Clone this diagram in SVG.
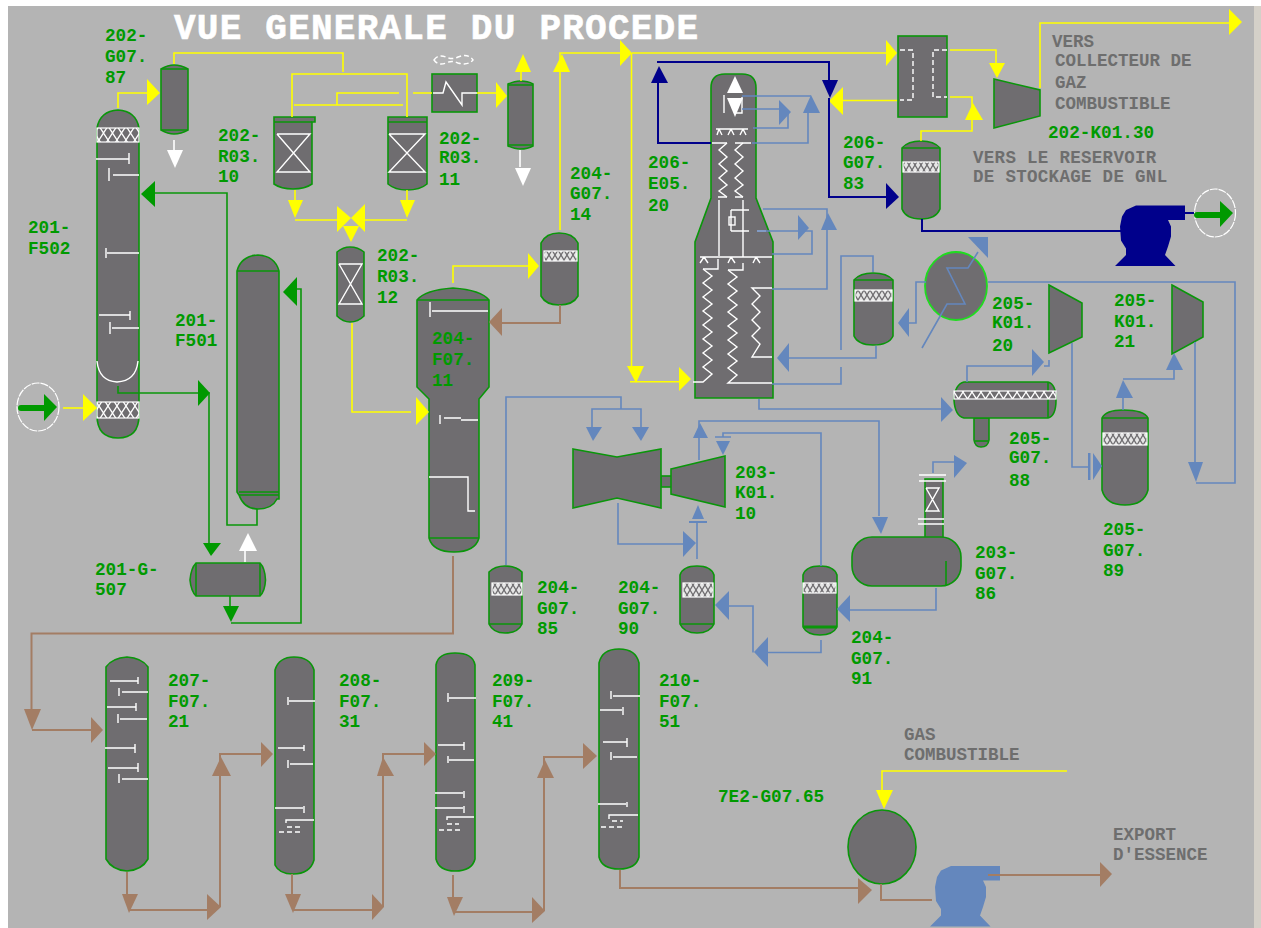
<svg xmlns="http://www.w3.org/2000/svg" width="1261" height="928" viewBox="0 0 1261 928">
<style>
.n{fill:#6f6d70;stroke:#0a960a;stroke-width:1.6}
.g{fill:none;stroke:#0a960a;stroke-width:1.6}
.w{fill:none;stroke:#fff;stroke-width:1.4}
.wd{fill:none;stroke:#fff;stroke-width:1.4;stroke-dasharray:5 3}
.wf{fill:#fff;stroke:none}
.m1{fill:url(#mesh1);stroke:#fff;stroke-width:1.2}
.m2{fill:url(#mesh2);stroke:#fff;stroke-width:1.2}
.l{font-family:"Liberation Mono",monospace;font-weight:700;font-size:17.7px;fill:#009a00}
.t{font-family:"Liberation Mono",monospace;font-weight:700;font-size:17.5px;fill:#6e6e6e}
.ly,.lb,.ln,.lr,.lg,.lw{fill:none;stroke-width:1.6}
.ly{stroke:#ffff00}.lb{stroke:#6487bd}.ln{stroke:#00008b;stroke-width:2}.lr{stroke:#a37d64;stroke-width:2}.lg{stroke:#0a960a}.lw{stroke:#fff}
.ay{fill:#ffff00}.ab{fill:#6487bd}.an{fill:#00008b}.ar{fill:#a37d64}.ag{fill:#009900}.aw{fill:#fff}
</style>
<defs>
<pattern id="mesh1" width="9" height="14" patternUnits="userSpaceOnUse">
<rect width="9" height="14" fill="#6f6d70"/><path d="M0 0L9 14M9 0L0 14" stroke="#fff" stroke-width="1.3"/>
</pattern>
<pattern id="mesh2" width="6" height="10" patternUnits="userSpaceOnUse">
<rect width="6" height="10" fill="#e6e6e6"/><path d="M0 0L6 10M6 0L0 10" stroke="#6f6d70" stroke-width="1.3"/>
</pattern>
<path id="pump" d="M0 60.500L11 49.500L11 43L6 35L5 21L7 11L11 4.500L21 0L70 0L70 14.500L53 14.500L56 21L56 31L53 41L50 49.500L60.500 60.500Z"/>
</defs>
<rect width="1261" height="928" fill="#fff"/>
<rect x="8" y="6" width="1246" height="922" fill="#b4b4b4"/>
<rect x="1254" y="6" width="7" height="922" fill="#d4d0c8"/>
<text id="title" x="174" y="39" font-family="'Liberation Mono',monospace" font-weight="700" font-size="36" fill="#fff" stroke="#fff" stroke-width=".6" textLength="524" lengthAdjust="spacing">VUE GENERALE DU PROCEDE</text>

<g id="n201-F502">
<path class="n" d="M97 128Q100 111 118 110Q136 111 139 128L139 415Q139 438 118 438Q97 438 97 415Z"/>
<rect class="m1" x="97" y="128" width="42" height="14"/>
<rect class="m1" x="97" y="402" width="42" height="16"/>
<path class="w" d="M96 159H129M129 153V164M113 175H139M109 168V181M107 253H139M106 248V258M99 315H130M130 311V320M112 328H139M110 322V334M97 361Q99 381 117 382Q136 381 138 361"/>
<text class="l"><tspan x="28" y="233">201-</tspan><tspan x="28" y="254">F502</tspan></text>
</g>
<g id="n201-F501">
<path class="n" d="M237 271Q241 256 258 255Q275 256 279 271L279 499L277 499Q272 509 258 509Q244 509 239 495L237 492Z"/>
<path class="g" d="M237 271H279M239 492H279M239 495H279"/>
<text class="l"><tspan x="175" y="326">201-</tspan><tspan x="175" y="346">F501</tspan></text>
</g>
<g id="n201-G-507">
<path class="n" d="M196 563H260Q265 568 265.500 580Q265 591 260 596H196Q191 591 190 580Q191 568 196 563Z"/>
<path class="g" d="M196 563V596M260 563V596"/>
<text class="l"><tspan x="95" y="575">201-G-</tspan><tspan x="95" y="595">507</tspan></text>
</g>
<g id="n202-G07.87">
<path class="n" d="M161 69Q168 65 174 65Q181 65 188 69V130Q181 134 174 134Q168 134 161 130Z"/>
<path class="g" d="M161 69H188M161 130H188"/>
<text class="l"><tspan x="105" y="41">202-</tspan><tspan x="105" y="62">G07.</tspan><tspan x="105" y="83">87</tspan></text>
</g>
<g id="n202-R03.10">
<path class="n" d="M274 122V117H315V122H312V184Q305 189 293 189Q281 189 274 184Z"/>
<path class="g" d="M274 122H312"/>
<path class="w" d="M277 134H310L277 172H310L277 134"/>
<text class="l"><tspan x="218" y="141">202-</tspan><tspan x="218" y="162">R03.</tspan><tspan x="218" y="182">10</tspan></text>
</g>
<g id="n202-R03.11">
<path class="n" d="M388 122V117H427V184Q420 190 407 190Q395 190 388 184Z"/>
<path class="g" d="M388 122H427"/>
<path class="w" d="M389 134H425L389 172H425L389 134"/>
<text class="l"><tspan x="439" y="144">202-</tspan><tspan x="439" y="163">R03.</tspan><tspan x="439" y="185">11</tspan></text>
</g>
<g id="n202-R03.12">
<path class="n" d="M337 252Q343 247 350 247Q358 247 364 252V316Q358 322 350 322Q343 322 337 316Z"/>
<path class="w" d="M339 264H362L339 304H362L339 264"/>
<text class="l"><tspan x="377" y="261">202-</tspan><tspan x="377" y="282">R03.</tspan><tspan x="377" y="303">12</tspan></text>
</g>
<g id="n-cooler">
<rect class="n" x="432" y="74" width="45" height="38"/>
<path class="w" d="M433 93H443L446 82L462 105V93H477"/>
<path class="wd" stroke-dasharray="3 2" d="M434 60Q438 54 446 57Q452 60 458 57Q468 53 473 60Q468 66 458 63Q452 60 446 63Q438 66 434 60Z"/>
</g>
<g id="n-vessel-top">
<path class="n" d="M508 84Q515 81 520 81Q528 81 533 84V146Q528 149 520 149Q515 149 508 146Z"/>
<path class="g" d="M508 85H533M508 145H533"/>
</g>
<g id="n204-G07.14">
<path class="n" d="M541 243Q546 233 559 233Q573 233 578 243V296Q573 305 559 305Q546 305 541 296Z"/>
<rect class="m2" x="544" y="251" width="33" height="10"/>
<text class="l"><tspan x="570" y="179">204-</tspan><tspan x="570" y="199">G07.</tspan><tspan x="570" y="220">14</tspan></text>
</g>
<g id="n204-F07.11">
<path class="n" d="M417 300Q425 290 453 288Q481 290 489 300V387L479 399V538Q475 552 454 552Q433 552 429 538V399L417 387Z"/>
<path class="g" d="M417 300H489M429 538H479"/>
<path class="w" d="M432 311H488M430 302V317M440 415V424M444 418H461M461 420H478M429 477H468V511H475"/>
<text class="l"><tspan x="432" y="344">204-</tspan><tspan x="432" y="365">F07.</tspan><tspan x="432" y="386">11</tspan></text>
</g>
<g id="n206-E05.20">
<path class="n" d="M711 198V88Q711 74 725 74H742Q756 74 756 88V198L773 242V398H695V242Z"/>
<polygon class="wf" points="727,93 743,93 735,76"/>
<polygon class="wf" points="727,98 743,98 735,117"/>
<path class="w" d="M724 95V113M735 113H742V97"/>
<path class="w" d="M716 129H748M719 129L717 135M719 129L722 135M731 129L728 135M731 129L734 135M743 129L740 135M743 129L746 135"/>
<path class="w" d="M712 143H727M735 143H751M718 197H727M735 197H743"/>
<polyline class="w" points="727,143 719,150 727,157 719,164 727,171 719,178 727,185 719,191 727,197"/>
<polyline class="w" points="743,143 735,150 743,157 735,164 743,171 735,178 743,185 735,191 743,197"/>
<path class="w" d="M719 200V256M743 200V257M731 210H749M731 210V231M731 231H749M757 231H766"/>
<rect class="w" x="729" y="217" width="6" height="8"/>
<path class="w" d="M700 257H772M704 257L700 263M704 257L708 263M731 257L728 263M731 257L735 263M756 257L753 263M756 257L760 263M718 259V269H703M743 263V270H728"/>
<polyline class="w" points="703,269 712,276 703,283 712,290 703,297 712,304 703,311 712,318 703,325 712,332 703,339 712,346 703,353 712,360 703,367 712,374 703,382 693,382"/>
<polyline class="w" points="728,270 737,277 728,284 737,291 728,298 737,305 728,312 737,319 728,326 737,333 728,340 737,347 728,354 737,361 728,368 737,375 728,383 772,383"/>
<polyline class="w" points="772,288 752,288 760,296 752,304 760,312 752,320 760,328 752,336 760,344 752,357 772,357"/>
<text class="l"><tspan x="648" y="168">206-</tspan><tspan x="648" y="189">E05.</tspan><tspan x="648" y="211">20</tspan></text>
</g>
<g id="n-exchanger-top">
<rect class="n" x="898" y="36" width="49" height="81"/>
<path class="wd" d="M900 50H913V100H900M947 50H933V97H947"/>
</g>
<g id="n206-G07.83">
<path class="n" d="M902 148Q908 141 921 141Q934 141 940 148V209Q936 219 921 219Q906 219 902 209Z"/>
<path class="g" d="M902 148H940"/>
<rect class="m2" x="903" y="162" width="36" height="10"/>
<text class="l"><tspan x="843" y="148">206-</tspan><tspan x="843" y="168">G07.</tspan><tspan x="843" y="189">83</tspan></text>
</g>
<g id="n202-K01.30">
<polygon class="n" points="994,79 1040,90 1040,116 994,128"/>
<text class="l" x="1048" y="138">202-K01.30</text>
</g>
<g id="n-pump-gnl"><use href="#pump" x="1115" y="205.500" fill="#00008b"/></g>
<g id="n-sortie-gnl">
<ellipse cx="1215" cy="213" rx="20.500" ry="24" fill="none" stroke="#fff" stroke-width="1.2" stroke-dasharray="8 1"/>
</g>
<g id="n-entree">
<ellipse cx="38" cy="407" rx="21" ry="24" fill="none" stroke="#fff" stroke-width="1.2" stroke-dasharray="8 1"/>
</g>
<g id="n-vessel-mid">
<path class="n" d="M854 280Q860 273 873 273Q887 273 893 280V336Q889 345 873 345Q858 345 854 336Z"/>
<path class="g" d="M854 280H893"/>
<rect class="m2" x="855" y="290" width="37" height="11"/>
</g>
<g id="n-exchanger-round">
<ellipse cx="956" cy="286" rx="31" ry="34" fill="#6f6d70" stroke="#1fdc1f" stroke-width="1.8"/>
</g>
<g id="n205-K01.20">
<polygon class="n" points="1049,285 1082,303 1082,337 1049,353"/>
<text class="l"><tspan x="992" y="309">205-</tspan><tspan x="992" y="328">K01.</tspan><tspan x="992" y="351">20</tspan></text>
</g>
<g id="n205-K01.21">
<polygon class="n" points="1172,285 1203,302 1203,337 1172,354"/>
<text class="l"><tspan x="1114" y="306">205-</tspan><tspan x="1114" y="327">K01.</tspan><tspan x="1114" y="347">21</tspan></text>
</g>
<g id="n205-G07.88">
<path class="n" d="M974 418V440Q975 447 981 447Q988 447 989 440V418Z"/>
<path class="g" d="M975 441H988"/>
<path class="n" d="M964 382H1048Q1056 384 1056 400Q1056 416 1048 418H964Q955 416 954 400Q955 384 964 382Z"/>
<path class="g" d="M1048 382V418"/>
<rect class="m1" x="954" y="391" width="102" height="8"/>
<text class="l"><tspan x="1009" y="444">205-</tspan><tspan x="1009" y="463">G07.</tspan><tspan x="1009" y="486">88</tspan></text>
</g>
<g id="n205-G07.89">
<path class="n" d="M1102 418Q1106 410 1123 410Q1144 410 1148 418V490Q1144 505 1125 505Q1106 505 1102 490Z"/>
<path class="g" d="M1102 418H1148"/>
<rect class="m2" x="1103" y="433" width="44" height="12"/>
<text class="l"><tspan x="1103" y="535">205-</tspan><tspan x="1103" y="556">G07.</tspan><tspan x="1103" y="576">89</tspan></text>
</g>
<g id="n203-K01.10">
<rect class="n" x="661" y="476" width="11" height="11"/>
<polygon class="n" points="573,449 617,457 661,449 661,508 617,498 573,508"/>
<polygon class="n" points="671,469 725,456 725,507 671,494"/>
<text class="l"><tspan x="735" y="478">203-</tspan><tspan x="735" y="498">K01.</tspan><tspan x="735" y="519">10</tspan></text>
</g>
<g id="n203-G07.86">
<rect class="n" x="925" y="479" width="18" height="60"/>
<path class="w" d="M919 475H946M919 481H946M918 519H944M918 524H944"/>
<path class="w" d="M926 488H939L926 511H939L926 488"/>
<rect class="n" x="852" y="537" width="109" height="49" rx="20" ry="20"/>
<path class="g" d="M946 561V586"/>
<text class="l"><tspan x="975" y="558">203-</tspan><tspan x="975" y="579">G07.</tspan><tspan x="975" y="599">86</tspan></text>
</g>
<g id="n204-G07.85">
<path class="n" d="M489 572Q495 566 505 566Q516 566 522 572V624Q518 633 505 633Q493 633 489 624Z"/>
<path class="g" d="M489 624H522"/>
<rect class="m2" x="492" y="583" width="30" height="12"/>
<text class="l"><tspan x="537" y="593">204-</tspan><tspan x="537" y="614">G07.</tspan><tspan x="537" y="634">85</tspan></text>
</g>
<g id="n204-G07.90">
<path class="n" d="M680 575Q683 566 697 566Q711 566 714 575V624Q710 633 697 633Q684 633 680 624Z"/>
<path class="g" d="M680 624H714"/>
<rect class="m2" x="683" y="583" width="30" height="14"/>
<text class="l"><tspan x="618" y="593">204-</tspan><tspan x="618" y="614">G07.</tspan><tspan x="618" y="634">90</tspan></text>
</g>
<g id="n204-G07.91">
<path class="n" d="M803 575Q806 566 820 566Q834 566 837 575V627Q833 635 820 635Q807 635 803 627Z"/>
<path d="M803 627H837" fill="none" stroke="#0a960a" stroke-width="3"/>
<rect class="m2" x="803" y="583" width="33" height="10"/>
<text class="l"><tspan x="851" y="643">204-</tspan><tspan x="851" y="664">G07.</tspan><tspan x="851" y="684">91</tspan></text>
</g>
<g id="n207-F07.21">
<path class="n" d="M106 667Q112 658 127 657Q142 658 148 667V859Q142 870 127 871Q112 870 106 859Z"/>
<path class="w" d="M110 681H138M138 677V684M122 692H148M119 688V696M107 707H136M136 703V711M120 719H147M118 714V723M105 748H135M135 744V753M108 768H138M138 763V772M122 779H148M119 774V783"/>
<text class="l"><tspan x="168" y="686">207-</tspan><tspan x="168" y="707">F07.</tspan><tspan x="168" y="727">21</tspan></text>
</g>
<g id="n208-F07.31">
<path class="n" d="M275 670Q279 657 294 657Q310 657 314 670V860Q310 874 293 874Q279 874 275 865Z"/>
<path class="w" d="M289 701H315M288 697V705M278 748H304M304 745V751M290 764H313M288 760V768M275 808H303M304 806V813M286 823V820H314"/>
<path class="wd" d="M287 827H300M279 832H300"/>
<text class="l"><tspan x="339" y="686">208-</tspan><tspan x="339" y="707">F07.</tspan><tspan x="339" y="727">31</tspan></text>
</g>
<g id="n209-F07.41">
<path class="n" d="M436 665Q438 653 455 653Q473 653 475 665V859Q472 871 455 871Q439 871 436 859Z"/>
<path class="w" d="M449 698H476M448 693V702M438 745H464M464 742V750M449 760H474M448 756V763M435 793H463M464 791V798M435 808H463M464 806V813M447 820V817H474"/>
<path class="wd" d="M447 824H459M439 830H460"/>
<text class="l"><tspan x="492" y="686">209-</tspan><tspan x="492" y="707">F07.</tspan><tspan x="492" y="727">41</tspan></text>
</g>
<g id="n210-F07.51">
<path class="n" d="M599 663Q602 649 619 649Q636 649 639 663V857Q636 869 619 869Q602 869 599 857Z"/>
<path class="w" d="M613 696H640M611 691V699M600 710H622M623 707V715M603 742H627M627 738V747M613 757H637M611 752V760M598 804H626M627 802V807M609 819V815H638"/>
<path class="wd" d="M612 821H623M601 827H623"/>
<text class="l"><tspan x="659" y="686">210-</tspan><tspan x="659" y="707">F07.</tspan><tspan x="659" y="727">51</tspan></text>
</g>
<g id="n7E2-G07.65">
<ellipse class="n" cx="882" cy="847" rx="34" ry="37"/>
<text class="l" x="718" y="802">7E2-G07.65</text>
</g>
<g id="n-pump-essence"><use href="#pump" x="930" y="866" fill="#6487bd"/></g>

<g id="connectors">
<path class="ly" d="M63 408H83"/><polygon class="ay" points="83,394 97,408 83,421"/>
<path class="ly" d="M118 108V93H147"/><polygon class="ay" points="147,79 160,93 147,105"/>
<path class="ly" d="M174 64V53H343V72M292 117V74H407V117M294 105H403M337 105V93H399M413 93H432"/>
<polygon class="ay" points="288,200 303,200 295,218"/><polygon class="ay" points="400,200 415,200 407,218"/>
<path class="ly" d="M295 190V200M407 190V200M295 220H340M365 220H407"/>
<polygon class="ay" points="337,206 351,218 337,232"/><polygon class="ay" points="365,204 351,218 365,232"/><polygon class="ay" points="343,226 359,226 351,242"/>
<path class="ly" d="M352 323V412H411"/><polygon class="ay" points="416,397 429,412 416,425"/>
<path class="ly" d="M477 93H496"/><polygon class="ay" points="496,82 507,96 496,108"/>
<path class="ly" d="M521 81V72"/><polygon class="ay" points="515,72 531,72 523,54"/>
<path class="ly" d="M453 283V266H528"/><polygon class="ay" points="528,253 539,266 528,279"/>
<path class="ly" d="M560 230V53H622M632 53H886M631.500 53V366M630 381.700H679"/>
<polygon class="ay" points="553,72 570,72 562,54"/><polygon class="ay" points="620,40 632,53 620,66"/><polygon class="ay" points="886,40 897,53 886,66"/>
<polygon class="ay" points="627,366 644,366 636,383"/><polygon class="ay" points="679,367 691,379 679,391"/>
<path class="ly" d="M950 50H996V63M897 100.500H840"/><polygon class="ay" points="989,63 1005,63 997,78"/><polygon class="ay" points="843,87 843,115 829,101"/>
<path class="ly" d="M921 141V131H972V97H950"/><polygon class="ay" points="965,120 983,120 973,103"/>
<path class="ly" d="M1040 88V23H1229"/><polygon class="ay" points="1229,9 1242,22 1229,35"/>
<path class="ly" d="M1067 771H882V790"/><polygon class="ay" points="876,790 893,790 884,809"/>
<path class="lw" d="M174 140V150"/><polygon class="aw" points="167,150 183,150 175,168"/>
<path class="lw" d="M520 150V167"/><polygon class="aw" points="515,168 531,168 523,186"/>
<path class="lw" d="M245 551V562"/><polygon class="aw" points="239,551 257,551 248,533"/>
<path d="M21 408H45" stroke="#009900" stroke-width="6" fill="none" stroke-linecap="round"/><polygon class="ag" points="44,394 57,407 44,421"/>
<path d="M1197 215H1220" stroke="#009900" stroke-width="6" fill="none" stroke-linecap="round"/><polygon class="ag" points="1220,201 1233,213 1220,227"/>
<path class="lg" d="M118 386V393H209V545"/><polygon class="ag" points="198,380 210,393 198,406"/><polygon class="ag" points="203,543 221,543 211,556"/>
<path class="lg" d="M230 596V606M231 623H301V289H297"/><polygon class="ag" points="223,606 239,606 231,622"/><polygon class="ag" points="297,277 283,292 297,306"/>
<path class="lg" d="M257 509V525H227V193H155"/><polygon class="ag" points="155,181 141,194 155,207"/>
<path class="ln" d="M711 143H658V82"/><polygon class="an" points="651,83 668,83 659,66"/>
<path class="ln" d="M657 62H829V80M829 98V197H886"/><polygon class="an" points="822,80 838,80 830,98"/><polygon class="an" points="886,183 886,209 899,197"/>
<path class="ln" d="M922 219V231H1122M1185 213H1194"/>
<path class="lb" d="M742 96H811M752 143H808V113M742 109H779M753 128H788V112"/>
<polygon class="ab" points="803,113 820,113 811,95"/><polygon class="ab" points="779,100 791,112 779,125"/>
<path class="lb" d="M763 209H827V289H772M757 231H799M805 231H812V254H772"/>
<polygon class="ab" points="821,230 837,230 828,213"/><polygon class="ab" points="798,215 809,228 798,240"/>
<path class="lb" d="M841 350V256H873V272M772 384H841V367M876 346V358H789"/><polygon class="ab" points="789,343 777,358 789,372"/>
<path class="lb" d="M759 399V409H945"/><polygon class="ab" points="941,397 953,410 941,422"/>
<path class="lb" d="M699 460V421H879V516"/><polygon class="ab" points="693,438 708,438 700,423"/><polygon class="ab" points="872,517 888,517 881,534"/>
<path class="lb" d="M723 437V433H821V566M715 437H731"/><polygon class="ab" points="716,441 730,441 723,455"/>
<path class="lb" d="M506 565V397H621V409M592 427V409H641V427"/><polygon class="ab" points="586,427 602,427 593,441"/><polygon class="ab" points="632,427 649,427 641,441"/>
<path class="lb" d="M618 503V544H683"/><polygon class="ab" points="683,531 696,543 683,557"/>
<path class="lb" d="M697 559V523"/><rect class="ab" x="689" y="521" width="18" height="2"/><polygon class="ab" points="692,519 704,519 698,505"/>
<path class="lb" d="M729 606H753V652.500M768 652.500H821V640"/><polygon class="ab" points="729,591 715,605 729,620"/><polygon class="ab" points="768,637 754,652 768,667"/>
<path class="lb" d="M850 610H936V588"/><polygon class="ab" points="850,595 837,609 850,622"/>
<path class="lb" d="M933 473V462H955"/><polygon class="ab" points="954,455 967,463 954,478"/>
<path class="lb" d="M967 382V366H1032M1044 366H1049V360"/><polygon class="ab" points="1032,349 1044,362 1032,376"/>
<path class="lb" d="M1072 343V467H1090"/><rect class="ab" x="1088" y="453" width="2.500" height="27"/><polygon class="ab" points="1093,453 1102,466 1093,480"/>
<path class="lb" d="M1123 410V398M1123 379H1174V370"/><polygon class="ab" points="1116,398 1133,398 1123,380"/><polygon class="ab" points="1166,370 1183,370 1174,353"/>
<path class="lb" d="M1195 342V462M1196 483H1235V282H988"/><polygon class="ab" points="1188,462 1203,462 1196,482"/>
<polyline class="lb" points="922,348 947,304 965,304 947,268 968,268 978,252"/><polygon class="ab" points="968,237 988,237 988,258"/>
<path class="lb" d="M926 282H916V323H909"/><polygon class="ab" points="909,308 898,323 909,337"/>
<path class="lr" d="M560 305V323H502"/><polygon class="ar" points="502,308 489,322 502,336"/>
<path class="lr" d="M453 556V633.500H31.500V709"/><polygon class="ar" points="24,709 41,709 32,730"/>
<path class="lr" d="M32 730H91"/><polygon class="ar" points="91,717 103,730 91,743"/>
<path class="lr" d="M127 872V895M130 910H207M220 907V754H261"/><polygon class="ar" points="122,894 138,894 129,913"/><polygon class="ar" points="207,894 221,907 207,920"/><polygon class="ar" points="212,776 231,776 221,757"/><polygon class="ar" points="261,742 273,754 261,767"/>
<path class="lr" d="M292 874V895M293 910H372M383 907V754H424"/><polygon class="ar" points="285,894 301,894 293,913"/><polygon class="ar" points="372,894 384,907 372,920"/><polygon class="ar" points="377,776 394,776 383,757"/><polygon class="ar" points="424,742 436,754 424,766"/>
<path class="lr" d="M453 875V897M455 912H532M544 911V757H583"/><polygon class="ar" points="447,897 463,897 454,916"/><polygon class="ar" points="532,897 545,911 532,923"/><polygon class="ar" points="537,778 554,778 545,760"/><polygon class="ar" points="583,743 597,756 583,769"/>
<path class="lr" d="M620 870V888H858"/><polygon class="ar" points="858,878 872,890 858,904"/>
<path class="lr" d="M881 884V900H932M988 875H1100"/><polygon class="ar" points="1100,862 1112,874 1100,887"/>
</g>

<g id="notes">
<text class="t"><tspan x="1052" y="47">VERS</tspan><tspan x="1055" y="66">COLLECTEUR DE</tspan><tspan x="1055" y="88">GAZ</tspan><tspan x="1055" y="109">COMBUSTIBLE</tspan></text>
<text class="t" letter-spacing=".3"><tspan x="973" y="163">VERS LE RESERVOIR</tspan><tspan x="973" y="182">DE STOCKAGE DE GNL</tspan></text>
<text class="t"><tspan x="904" y="740">GAS</tspan><tspan x="904" y="760">COMBUSTIBLE</tspan></text>
<text class="t"><tspan x="1113" y="840">EXPORT</tspan><tspan x="1113" y="860">D'ESSENCE</tspan></text>
</g>
</svg>
